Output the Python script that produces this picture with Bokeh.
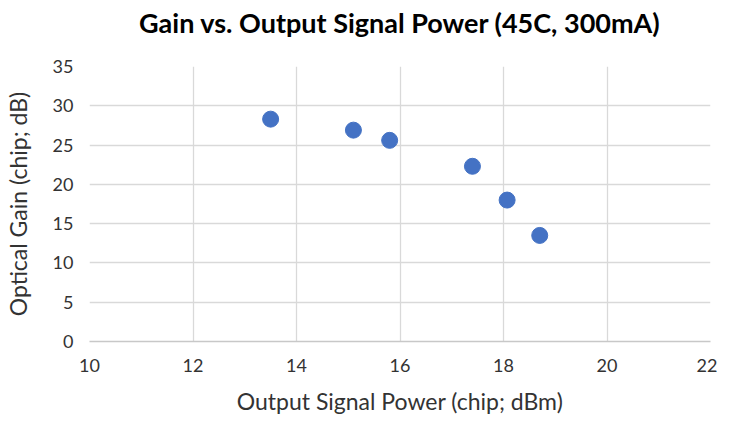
from bokeh.plotting import figure
from bokeh.models import Range1d, FixedTicker, Title
from bokeh.embed import file_html
from bokeh.resources import INLINE

# Data
output_power = [13.5, 15.1, 15.8, 17.4, 18.07, 18.7]
optical_gain = [28.3, 26.9, 25.6, 22.3, 18.0, 13.5]
x_ticks = [10, 12, 14, 16, 18, 20, 22]
y_ticks = [0, 5, 10, 15, 20, 25, 30, 35]
title_text = "Gain vs. Output Signal Power (45C, 300mA)"
x_label = "Output Signal Power (chip; dBm)"
y_label = "Optical Gain (chip; dB)"

FONT = "Lato"

p = figure(width=717, height=417, output_backend="svg", toolbar_location=None,
           x_range=Range1d(x_ticks[0], x_ticks[-1]), y_range=Range1d(y_ticks[0], y_ticks[-1]),
           min_border_left=89, min_border_right=7, min_border_top=66, min_border_bottom=76)

# spacer (inner, next to the frame) and the real title (outer)
spacer = Title(text=" ", text_font=FONT, text_font_size="12px", standoff=7)
main_title = Title(text=title_text, text_font=FONT, text_font_size="27px",
                   text_font_style="bold", text_color="#000000",
                   align="center", vertical_align="top", standoff=4)
p.add_layout(spacer, "above")
p.add_layout(main_title, "above")

p.outline_line_color = None
p.background_fill_color = "white"
p.border_fill_color = "white"

p.xaxis.ticker = FixedTicker(ticks=x_ticks)
p.yaxis.ticker = FixedTicker(ticks=y_ticks)
p.xgrid.ticker = FixedTicker(ticks=x_ticks)
p.ygrid.ticker = FixedTicker(ticks=y_ticks)
p.grid.grid_line_color = "#d9d9d9"
p.grid.grid_line_width = 1.3

for ax in (p.xaxis, p.yaxis):
    ax.major_tick_line_color = None
    ax.minor_tick_line_color = None
    ax.major_label_text_font = FONT
    ax.major_label_text_font_size = "18px"
    ax.major_label_text_color = "#333333"
    ax.axis_label_text_font = FONT
    ax.axis_label_text_font_style = "normal"
    ax.axis_label_text_color = "#333333"
    ax.axis_label_text_font_size = "23px"

p.xaxis.axis_line_color = "#c8c8c8"
p.xaxis.axis_line_width = 1.3
p.yaxis.axis_line_color = None
p.xaxis.major_label_standoff = 11
p.yaxis.major_label_standoff = 10
p.xaxis.axis_label = x_label
p.yaxis.axis_label = y_label
p.xaxis.axis_label_standoff = 12
p.yaxis.axis_label_standoff = 18

p.scatter(output_power, optical_gain, size=16, fill_color="#4472C4", line_color="#4472C4")

open("out.html", "w").write(file_html(p, INLINE))
